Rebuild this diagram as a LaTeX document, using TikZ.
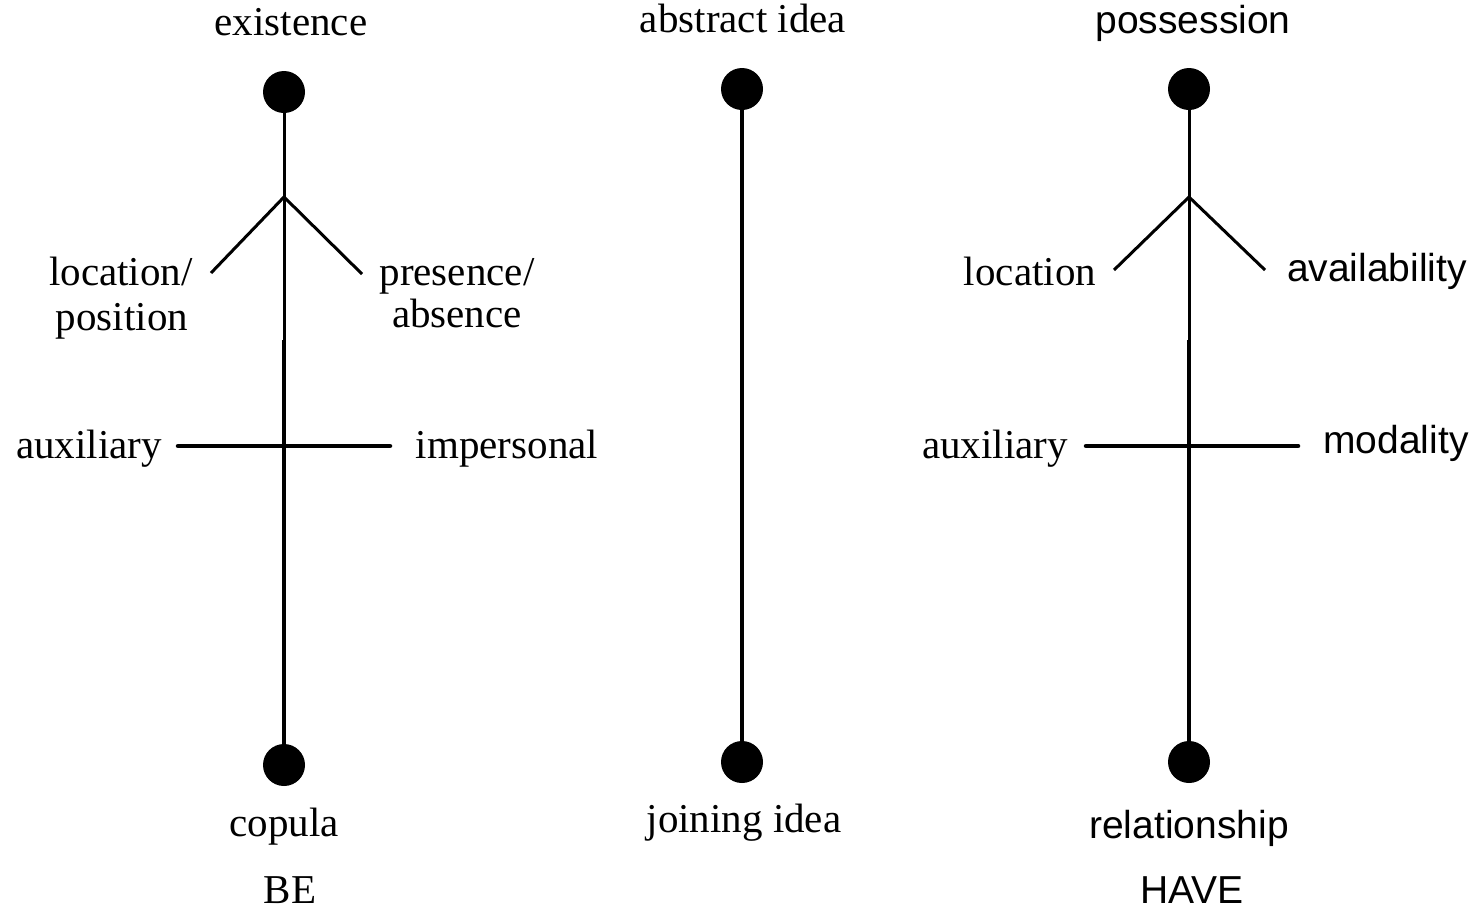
\documentclass[tikz,border=0pt]{standalone}
\usepackage{fontspec}
\setmainfont{Liberation Serif}
\newfontfamily\arialf{Liberation Sans}
\begin{document}
\begin{tikzpicture}[x=1pt,y=-1pt,
  dot/.style={circle,fill=black,inner sep=0pt,minimum size=42pt},
  thinline/.style={line width=3pt,black},
  thickline/.style={line width=4.5pt,black},
  serif/.style={font=\fontsize{41}{48}\selectfont,anchor=base,inner sep=0pt},
  sans/.style={font=\arialf\fontsize{39}{46}\selectfont,anchor=base,inner sep=0pt}]
\useasboundingbox (0,0) rectangle (1482,911);
% ---------- BE ----------
\node[dot] (top1) at (284,92) {};
\node[dot] (bot1) at (284,765) {};
\coordinate (fork1) at (284,197);
\coordinate (mid1) at (284,340);
\coordinate (fl1) at (211,273);
\coordinate (fr1) at (362,274);
\coordinate (hl1) at (178,446);
\coordinate (hr1) at (390,446);
\draw[thinline] (top1) -- (mid1);
\draw[thickline] (mid1) -- (bot1);
\draw[thinline] (fl1) -- (fork1) -- (fr1);
\draw[thickline,line cap=round] (hl1) -- (hr1);
\node[serif] (l1a) at (291,35) {existence};
\node[serif] (l1b) at (121,285) {location/};
\node[serif] (l1c) at (122,330) {position};
\node[serif] (l1d) at (457,285) {presence/};
\node[serif] (l1e) at (457,327) {absence};
\node[serif] (l1f) at (89,458) {auxiliary};
\node[serif] (l1g) at (507,458) {impersonal};
\node[serif] (l1h) at (284,836) {copula};
\node[serif] (l1i) at (290,903) {BE};
% ---------- middle ----------
\node[dot] (top2) at (742,89) {};
\node[dot] (bot2) at (742,762) {};
\draw[thickline] (top2) -- (bot2);
\node[serif] (l2a) at (743,32) {abstract idea};
\node[serif] (l2b) at (744,832) {joining idea};
% ---------- HAVE ----------
\node[dot] (top3) at (1189,89) {};
\node[dot] (bot3) at (1189,762) {};
\coordinate (fork3) at (1189,197);
\coordinate (mid3) at (1189,340);
\coordinate (fl3) at (1114,270);
\coordinate (fr3) at (1265,270);
\coordinate (hl3) at (1086,446);
\coordinate (hr3) at (1298,446);
\draw[thinline] (top3) -- (mid3);
\draw[thickline] (mid3) -- (bot3);
\draw[thinline] (fl3) -- (fork3) -- (fr3);
\draw[thickline,line cap=round] (hl3) -- (hr3);
\node[sans] (l3a) at (1193,33) {possession};
\node[serif] (l3b) at (1030,285) {location};
\node[sans] (l3c) at (1377,281) {availability};
\node[serif] (l3d) at (995,458) {auxiliary};
\node[sans] (l3e) at (1396,453) {modality};
\node[sans] (l3f) at (1189,838) {relationship};
\node[sans] (l3g) at (1192,903) {HAVE};
\end{tikzpicture}
\end{document}
